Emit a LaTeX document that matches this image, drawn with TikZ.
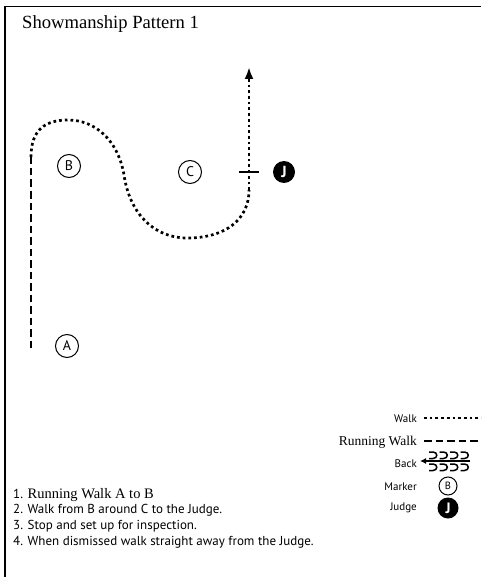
\documentclass[tikz,border=0pt]{standalone}
\usepackage{fontspec}
\setmainfont{Liberation Serif}
\setsansfont{PT Sans}
\usetikzlibrary{arrows.meta}
\begin{document}
\begin{tikzpicture}[x=1pt,y=-1pt,
  walk/.style={line width=2.7pt,dash pattern=on 2.7pt off 3pt},
  runwalk/.style={line width=2.2pt,dash pattern=on 7.5pt off 4pt},
  marker/.style={circle,draw,line width=1pt,minimum size=23pt,inner sep=0pt,font=\sffamily\fontsize{14}{14}\selectfont},
  judge/.style={circle,fill=black,minimum size=22pt,inner sep=0pt,text=white,font=\sffamily\bfseries\fontsize{16}{16}\selectfont},
  legend/.style={anchor=base east,inner sep=0pt,font=\sffamily\fontsize{11}{12}\selectfont},
  instr/.style={anchor=base west,inner sep=0pt,font=\sffamily\fontsize{13}{14}\selectfont}]
 \useasboundingbox (0,0) rectangle (481,577);
 \draw[line width=1.2pt] (5,577) -- (5,6.5) -- (481,6.5);
 \node[anchor=base west,inner sep=0pt,font=\fontsize{18.6}{20}\selectfont] (title) at (22,29) {Showmanship Pattern 1};

 % the markers and the judge
 \node[marker] (A) at (67,346) {A};
 \node[marker] (B) at (69,166) {B};
 \node[marker] (C) at (190,172) {C};
 \node[judge] (J) at (284,172) {J};

 % the pattern
 \coordinate (start) at (31,348);
 \coordinate (turn) at (31,157);
 \coordinate (halt) at (249,190);
 \coordinate (tip) at (249,67);
 \draw[runwalk] (start) -- (turn);
 \draw[walk] (turn) .. controls (31,130) and (45,120) .. (68,120)
   .. controls (95,120) and (118,140) .. (124,175)
   .. controls (130,215) and (155,238) .. (187,238)
   .. controls (225,238) and (249,220) .. (halt);
 \draw[walk,-{Latex[length=12pt,width=9pt]}] (halt) -- (tip);
 \draw[line width=1.6pt] (239,172) -- (259,172);

 % legend
 \node[legend] (lwalk) at (417,422) {Walk};
 \draw[walk] (424,418) -- (481,418);
 \node[legend,font=\fontsize{13.5}{15}\selectfont] (lrun) at (417,445) {Running Walk};
 \draw[runwalk] (424,441) -- (481,441);
 \node[legend] (lback) at (417,467) {Back};
 \draw[line width=1.4pt,-{Latex[length=6pt,width=6pt]}] (470,461) -- (420,461);
 \foreach \x in {429,439.5,450,460.5}{
   \draw[line width=1.5pt] (\x,452) -- (\x+4,452) .. controls (\x+9,452) and (\x+9,458.5) .. (\x+4,458.5) -- (\x,458.5);
   \draw[line width=1.5pt] (\x,464) -- (\x+4,464) .. controls (\x+9,464) and (\x+9,470.5) .. (\x+4,470.5) -- (\x,470.5);
 }
 \node[legend] (lmark) at (417,490) {Marker};
 \node[marker,minimum size=18pt,font=\sffamily\fontsize{10.5}{10}\selectfont] (mB) at (448,486) {B};
 \node[legend] (ljudge) at (417,510) {Judge};
 \node[judge,minimum size=21pt,font=\sffamily\bfseries\fontsize{15}{15}\selectfont] (mJ) at (448,508) {J};

 % steps
 \node[instr] (s1) at (13,498) {1. {\rmfamily\fontsize{14.5}{16}\selectfont Running Walk A to B}};
 \node[instr] (s2) at (13,513) {2. Walk from B around C to the Judge.};
 \node[instr] (s3) at (13,529) {3. Stop and set up for inspection.};
 \node[instr] (s4) at (13,545) {4. When dismissed walk straight away from the Judge.};
\end{tikzpicture}
\end{document}
